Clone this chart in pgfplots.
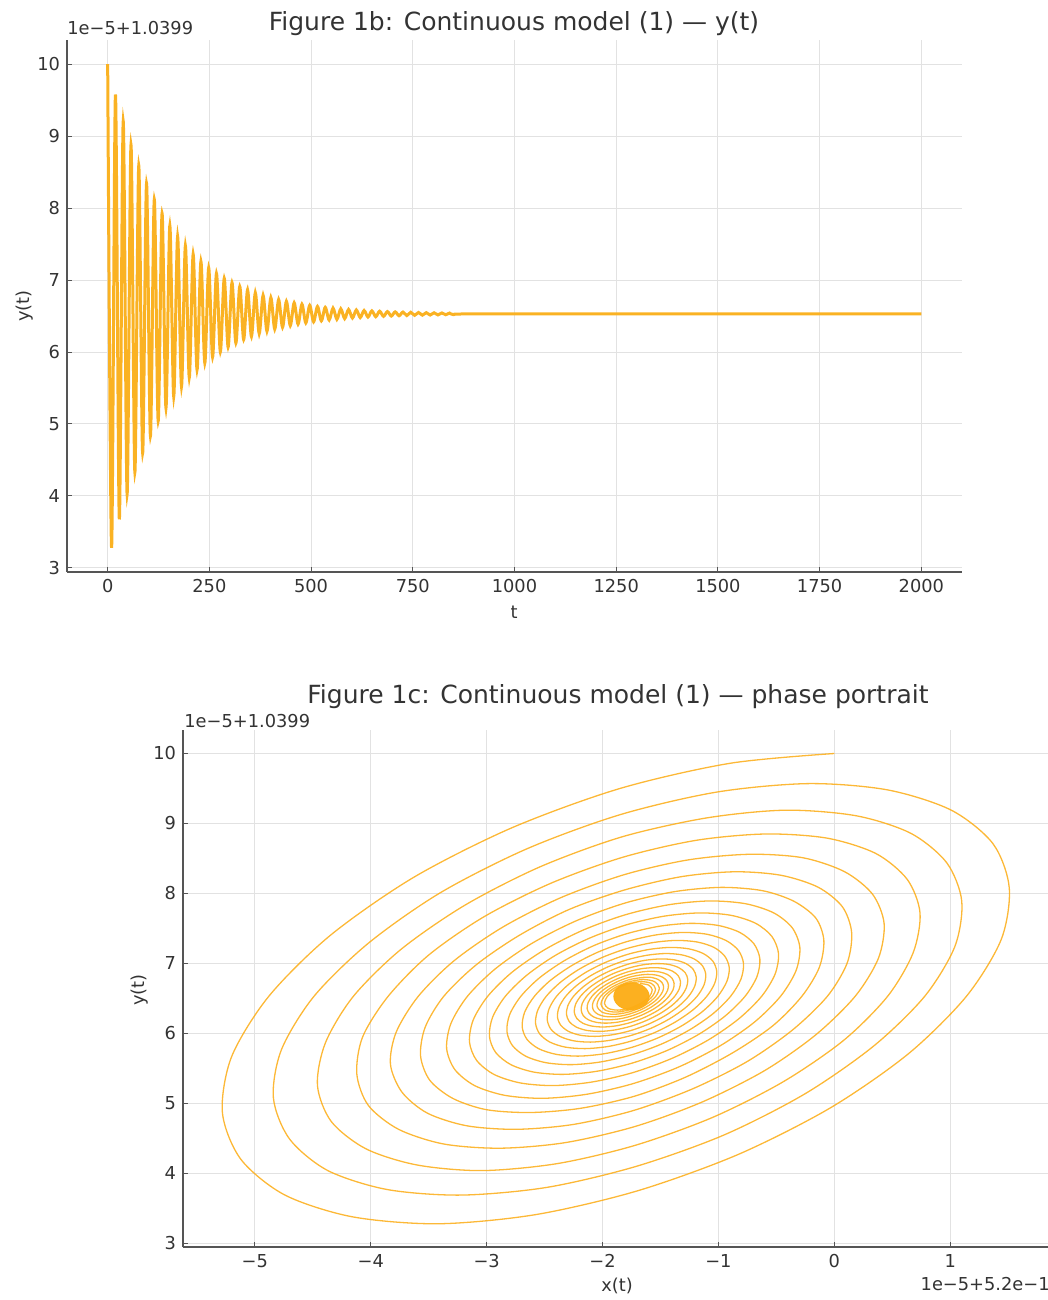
\documentclass[border=0pt]{standalone}
\usepackage{fontspec}
\setmainfont{DejaVu Sans}
\usepackage{pgfplots}
\pgfplotsset{compat=1.18}
\definecolor{lc}{RGB}{252,172,20}
\definecolor{lt}{RGB}{250,178,35}
\definecolor{txt}{RGB}{51,51,51}
\definecolor{spine}{RGB}{85,85,85}
\definecolor{gridc}{RGB}{226,226,226}
\pgfplotsset{mystyle/.style={
  scale only axis,
  axis x line*=bottom, axis y line*=left,
  axis line style={spine, line width=0.6pt, -},
  grid=major, major grid style={gridc, line width=0.5pt},
  tick align=inside, major tick length=2.5pt, tick style={spine, line width=0.5pt},
  tick label style={font=\fontsize{8.9}{10}\selectfont, text=txt},
  /pgf/number format/assume math mode=true,
  /pgf/number format/1000 sep={},
}}
\begin{document}
\begin{tikzpicture}
\useasboundingbox (0,0) rectangle (524pt,-650pt);
% ---------------- top: y(t)
\begin{axis}[mystyle,
  at={(33.5pt,-286pt)}, anchor=south west,
  width=447.5pt, height=266pt,
  xmin=-100, xmax=2100, ymin=2.943, ymax=10.336,
  xtick={0,250,500,750,1000,1250,1500,1750,2000},
  ytick={3,4,5,6,7,8,9,10},
]
\addplot[lt, line width=1.5pt, smooth] coordinates {
(0,10.000)(9.55,3.279)(19.1,9.577)(28.65,3.675)(38.2,9.205)(47.75,4.024)(57.3,8.879)(66.85,4.329)
(76.4,8.592)(85.95,4.598)(95.5,8.341)(105.05,4.834)(114.6,8.120)(124.15,5.041)(133.7,7.926)(143.25,5.222)
(152.8,7.755)(162.35,5.382)(171.9,7.606)(181.45,5.522)(191.0,7.475)(200.55,5.645)(210.1,7.359)(219.65,5.753)
(229.2,7.258)(238.75,5.848)(248.3,7.169)(257.85,5.931)(267.4,7.091)(276.95,6.004)(286.5,7.023)(296.05,6.068)
(305.6,6.963)(315.15,6.125)(324.7,6.910)(334.25,6.174)(343.8,6.864)(353.35,6.217)(362.9,6.823)(372.45,6.256)
(382.0,6.787)(391.55,6.289)(401.1,6.756)(410.65,6.318)(420.2,6.728)(429.75,6.344)(439.3,6.704)(448.85,6.367)
(458.4,6.683)(467.95,6.387)(477.5,6.664)(487.05,6.404)(496.6,6.648)(506.15,6.420)(515.7,6.633)(525.25,6.433)
(534.8,6.621)(544.35,6.445)(553.9,6.610)(563.45,6.455)(573.0,6.600)(582.55,6.464)(592.1,6.591)(601.65,6.472)
(611.2,6.584)(620.75,6.479)(630.3,6.577)(639.85,6.486)(649.4,6.572)(658.95,6.491)(668.5,6.567)(678.05,6.496)
(687.6,6.562)(697.15,6.500)(706.7,6.558)(716.25,6.504)(725.8,6.555)(735.35,6.507)(744.9,6.552)(754.45,6.510)
(764.0,6.549)(773.55,6.512)(783.1,6.547)(792.65,6.514)(802.2,6.545)(811.75,6.516)(821.3,6.543)(830.85,6.518)
(840.4,6.541)(849.95,6.519)(900,6.530)(1400,6.530)(2000,6.530)
};
\end{axis}
% ---------------- bottom: phase portrait
\begin{axis}[mystyle,
  at={(91.5pt,-623.5pt)}, anchor=south west,
  width=433pt, height=258.5pt,
  xmin=-5.62, xmax=1.853, ymin=2.948, ymax=10.336,
  xtick={-5,-4,-3,-2,-1,0,1},
  xticklabels={−5,−4,−3,−2,−1,0,1},
  ytick={3,4,5,6,7,8,9,10},
]
\addplot[lc, line width=0.65pt, smooth, opacity=0.85] coordinates {
(0.00,10.00)(-0.90,9.86)(-1.85,9.50)(-2.78,8.94)(-3.63,8.23)(-4.35,7.40)(-4.88,6.53)(-5.20,5.67)(-5.28,4.87)(-5.12,4.20)(-4.74,3.69)(-4.16,3.38)(-3.42,3.28)(-2.58,3.41)(-1.70,3.75)(-0.83,4.27)(-0.03,4.94)(0.64,5.71)(1.14,6.53)(1.44,7.34)(1.51,8.08)(1.37,8.71)(1.01,9.19)(0.46,9.48)
(-0.22,9.57)(-1.01,9.45)(-1.84,9.13)(-2.65,8.64)(-3.40,8.01)(-4.02,7.29)(-4.49,6.53)(-4.77,5.77)(-4.84,5.08)(-4.70,4.49)(-4.37,4.04)(-3.86,3.77)(-3.22,3.69)(-2.48,3.80)(-1.71,4.10)(-0.95,4.55)(-0.25,5.14)(0.34,5.82)(0.78,6.53)(1.04,7.24)(1.10,7.89)(0.97,8.44)(0.66,8.86)(0.19,9.11)
(-0.42,9.19)(-1.10,9.08)(-1.83,8.81)(-2.54,8.38)(-3.19,7.83)(-3.74,7.20)(-4.15,6.53)(-4.39,5.87)(-4.46,5.26)(-4.34,4.74)(-4.04,4.35)(-3.60,4.12)(-3.04,4.04)(-2.39,4.14)(-1.72,4.40)(-1.05,4.80)(-0.44,5.31)(0.08,5.90)(0.46,6.53)(0.68,7.15)(0.74,7.72)(0.63,8.20)(0.36,8.57)(-0.06,8.79)
(-0.59,8.85)(-1.19,8.76)(-1.82,8.52)(-2.44,8.15)(-3.02,7.67)(-3.50,7.12)(-3.85,6.53)(-4.07,5.95)(-4.12,5.42)(-4.02,4.97)(-3.76,4.63)(-3.37,4.42)(-2.88,4.36)(-2.32,4.44)(-1.72,4.67)(-1.14,5.02)(-0.60,5.47)(-0.16,5.98)(0.18,6.53)(0.38,7.07)(0.43,7.57)(0.33,7.99)(0.09,8.31)(-0.27,8.51)
(-0.73,8.56)(-1.26,8.48)(-1.81,8.27)(-2.36,7.94)(-2.86,7.52)(-3.28,7.04)(-3.59,6.53)(-3.78,6.02)(-3.83,5.56)(-3.73,5.16)(-3.51,4.86)(-3.17,4.68)(-2.74,4.63)(-2.25,4.70)(-1.73,4.90)(-1.22,5.21)(-0.75,5.60)(-0.36,6.05)(-0.06,6.53)(0.11,7.00)(0.15,7.44)(0.07,7.81)(-0.14,8.09)(-0.46,8.26)
(-0.86,8.31)(-1.32,8.24)(-1.81,8.05)(-2.29,7.77)(-2.72,7.40)(-3.09,6.98)(-3.37,6.53)(-3.53,6.09)(-3.57,5.68)(-3.49,5.33)(-3.29,5.07)(-3.00,4.91)(-2.62,4.87)(-2.19,4.93)(-1.73,5.10)(-1.29,5.37)(-0.88,5.72)(-0.53,6.11)(-0.28,6.53)(-0.13,6.94)(-0.09,7.33)(-0.16,7.65)(-0.35,7.89)(-0.62,8.04)
(-0.976,8.087)(-1.379,8.026)(-1.804,7.864)(-2.222,7.613)(-2.604,7.292)(-2.926,6.922)(-3.166,6.530)(-3.308,6.142)(-3.345,5.785)(-3.274,5.483)(-3.103,5.254)(-2.842,5.115)(-2.512,5.073)(-2.135,5.131)(-1.738,5.282)(-1.347,5.517)(-0.990,5.818)(-0.688,6.163)(-0.464,6.530)(-0.331,6.893)(-0.297,7.227)(-0.363,7.510)(-0.523,7.723)(-0.767,7.854)
(-1.076,7.893)(-1.428,7.839)(-1.800,7.697)(-2.165,7.478)(-2.500,7.196)(-2.782,6.873)(-2.991,6.530)(-3.116,6.191)(-3.148,5.878)(-3.086,5.614)(-2.936,5.414)(-2.708,5.292)(-2.420,5.255)(-2.090,5.306)(-1.742,5.438)(-1.400,5.644)(-1.087,5.907)(-0.824,6.209)(-0.627,6.530)(-0.511,6.847)(-0.481,7.140)(-0.539,7.387)(-0.679,7.574)(-0.892,7.688)
(-1.162,7.722)(-1.471,7.675)(-1.796,7.551)(-2.116,7.359)(-2.409,7.113)(-2.655,6.830)(-2.839,6.530)(-2.948,6.233)(-2.976,5.960)(-2.922,5.728)(-2.790,5.553)(-2.591,5.447)(-2.338,5.415)(-2.050,5.459)(-1.746,5.575)(-1.446,5.754)(-1.172,5.985)(-0.942,6.249)(-0.770,6.530)(-0.668,6.808)(-0.642,7.063)(-0.693,7.280)(-0.816,7.444)(-1.002,7.543)
(-1.238,7.573)(-1.508,7.532)(-1.793,7.424)(-2.073,7.256)(-2.329,7.040)(-2.545,6.793)(-2.705,6.530)(-2.801,6.270)(-2.825,6.031)(-2.778,5.828)(-2.663,5.675)(-2.488,5.582)(-2.267,5.554)(-2.015,5.593)(-1.749,5.694)(-1.487,5.851)(-1.247,6.053)(-1.045,6.284)(-0.895,6.530)(-0.806,6.773)(-0.783,6.997)(-0.827,7.186)(-0.935,7.329)(-1.098,7.417)
(-1.305,7.443)(-1.541,7.407)(-1.790,7.312)(-2.035,7.165)(-2.259,6.976)(-2.448,6.760)(-2.588,6.530)(-2.672,6.303)(-2.693,6.093)(-2.652,5.916)(-2.551,5.782)(-2.399,5.701)(-2.205,5.676)(-1.984,5.710)(-1.751,5.799)(-1.522,5.936)(-1.313,6.112)(-1.136,6.315)(-1.005,6.530)(-0.927,6.743)(-0.906,6.938)(-0.945,7.104)(-1.039,7.230)(-1.182,7.306)
(-1.363,7.329)(-1.570,7.297)(-1.788,7.214)(-2.002,7.086)(-2.198,6.921)(-2.363,6.731)(-2.486,6.530)(-2.559,6.331)(-2.578,6.148)(-2.542,5.993)(-2.454,5.876)(-2.320,5.804)(-2.151,5.783)(-1.957,5.812)(-1.754,5.890)(-1.553,6.010)(-1.370,6.165)(-1.215,6.342)(-1.100,6.530)(-1.032,6.716)(-1.014,6.887)(-1.048,7.033)(-1.131,7.142)(-1.256,7.209)
(-1.414,7.229)(-1.595,7.201)(-1.785,7.129)(-1.973,7.016)(-2.145,6.872)(-2.289,6.706)(-2.397,6.530)(-2.460,6.356)(-2.477,6.196)(-2.445,6.060)(-2.368,5.958)(-2.251,5.895)(-2.103,5.876)(-1.934,5.902)(-1.756,5.970)(-1.580,6.075)(-1.420,6.210)(-1.285,6.366)(-1.184,6.530)(-1.124,6.693)(-1.109,6.843)(-1.139,6.970)(-1.211,7.066)(-1.320,7.124)
(-1.458,7.142)(-1.617,7.117)(-1.783,7.054)(-1.948,6.955)(-2.098,6.829)(-2.224,6.684)(-2.318,6.530)(-2.374,6.378)(-2.389,6.238)(-2.361,6.119)(-2.293,6.029)(-2.191,5.974)(-2.062,5.958)(-1.914,5.981)(-1.758,6.040)(-1.604,6.132)(-1.463,6.250)(-1.345,6.386)(-1.257,6.530)(-1.205,6.672)(-1.191,6.804)(-1.217,6.915)(-1.281,6.999)(-1.376,7.050)
(-1.497,7.065)(-1.636,7.044)(-1.782,6.988)(-1.925,6.902)(-2.057,6.792)(-2.167,6.665)(-2.250,6.530)(-2.299,6.397)(-2.311,6.274)(-2.287,6.170)(-2.228,6.092)(-2.138,6.044)(-2.025,6.029)(-1.896,6.049)(-1.759,6.101)(-1.625,6.182)(-1.502,6.285)(-1.398,6.404)(-1.321,6.530)(-1.276,6.655)(-1.264,6.769)(-1.286,6.867)(-1.342,6.940)(-1.425,6.985)
(-1.531,6.998)(-1.653,6.980)(-1.780,6.931)(-1.906,6.856)(-2.021,6.759)(-2.118,6.648)(-2.190,6.530)(-2.233,6.414)(-2.244,6.306)(-2.222,6.215)(-2.171,6.147)(-2.092,6.105)(-1.993,6.092)(-1.880,6.109)(-1.760,6.155)(-1.643,6.225)(-1.535,6.316)(-1.445,6.420)(-1.377,6.530)(-1.337,6.639)(-1.327,6.740)(-1.347,6.825)(-1.395,6.889)(-1.468,6.928)
(-1.561,6.940)(-1.667,6.924)(-1.779,6.881)(-1.889,6.815)(-1.990,6.730)(-2.074,6.633)(-2.137,6.530)(-2.175,6.428)(-2.184,6.334)(-2.166,6.254)(-2.121,6.194)(-2.052,6.158)(-1.965,6.147)(-1.866,6.162)(-1.762,6.202)(-1.659,6.264)(-1.565,6.343)(-1.486,6.434)(-1.427,6.530)(-1.391,6.625)(-1.382,6.713)(-1.400,6.788)(-1.442,6.844)(-1.506,6.878)
(-1.587,6.889)(-1.680,6.874)(-1.778,6.837)(-1.874,6.779)(-1.962,6.705)(-2.036,6.620)(-2.091,6.530)(-2.124,6.441)(-2.133,6.359)(-2.116,6.289)(-2.077,6.236)(-2.017,6.204)(-1.941,6.195)(-1.854,6.208)(-1.763,6.243)(-1.673,6.297)(-1.590,6.366)(-1.521,6.446)(-1.469,6.530)(-1.439,6.614)(-1.431,6.690)(-1.446,6.756)(-1.483,6.805)(-1.539,6.835)
(-1.610,6.844)(-1.691,6.831)(-1.777,6.799)(-1.861,6.748)(-1.938,6.683)(-2.003,6.609)(-2.051,6.530)(-2.080,6.452)(-2.087,6.380)(-2.073,6.319)(-2.038,6.273)(-1.986,6.245)(-1.920,6.237)(-1.844,6.248)(-1.764,6.279)(-1.685,6.326)(-1.613,6.387)(-1.552,6.456)(-1.507,6.530)(-1.480,6.603)(-1.473,6.670)(-1.487,6.727)(-1.519,6.770)(-1.568,6.797)
(-1.630,6.804)(-1.776,6.765)(-1.917,6.664)(-2.016,6.530)(-2.048,6.399)(-2.005,6.305)(-1.901,6.273)(-1.764,6.310)(-1.632,6.404)(-1.540,6.530)(-1.510,6.653)(-1.550,6.740)
(-1.648,6.770)(-1.775,6.736)(-1.899,6.647)(-1.985,6.530)(-2.013,6.415)(-1.976,6.333)(-1.885,6.305)(-1.765,6.338)(-1.650,6.420)(-1.569,6.530)(-1.543,6.637)(-1.578,6.714)
(-1.663,6.740)(-1.775,6.710)(-1.883,6.633)(-1.958,6.530)(-1.983,6.430)(-1.950,6.358)(-1.870,6.333)(-1.766,6.362)(-1.665,6.434)(-1.594,6.530)(-1.571,6.624)(-1.602,6.691)
(-1.676,6.714)
};
\addplot[lc, only marks, mark=*, mark size=6.8pt, mark options={xscale=1.3, fill=lc, draw=lc, opacity=0.95}] coordinates {(-1.75,6.53)};
\end{axis}
% ---------------- texts
\node[anchor=base, font=\fontsize{12.5}{14}\selectfont, text=txt] at (257pt,-15.5pt) {Figure 1b: Continuous model (1) — y(t)};
\node[anchor=base west, inner sep=0pt, font=\fontsize{8.9}{10}\selectfont, text=txt] at (33.5pt,-17.5pt) {1e−5+1.0399};
\node[anchor=base, inner sep=0pt, font=\fontsize{8.9}{10}\selectfont, text=txt] at (257pt,-309pt) {t};
\node[rotate=90, inner sep=0pt, font=\fontsize{8.9}{10}\selectfont, text=txt] at (12.5pt,-153pt) {y(t)};
\node[anchor=base, font=\fontsize{12.5}{14}\selectfont, text=txt] at (309pt,-351.5pt) {Figure 1c: Continuous model (1) — phase portrait};
\node[anchor=base west, inner sep=0pt, font=\fontsize{8.9}{10}\selectfont, text=txt] at (92pt,-363.5pt) {1e−5+1.0399};
\node[inner sep=0pt, font=\fontsize{8.9}{10}\selectfont, text=txt] at (308.5pt,-643pt) {x(t)};
\node[rotate=90, inner sep=0pt, font=\fontsize{8.9}{10}\selectfont, text=txt] at (70pt,-495pt) {y(t)};
\node[anchor=base east, inner sep=0pt, font=\fontsize{8.9}{10}\selectfont, text=txt] at (525pt,-645pt) {1e−5+5.2e−1};
\end{tikzpicture}
\end{document}
